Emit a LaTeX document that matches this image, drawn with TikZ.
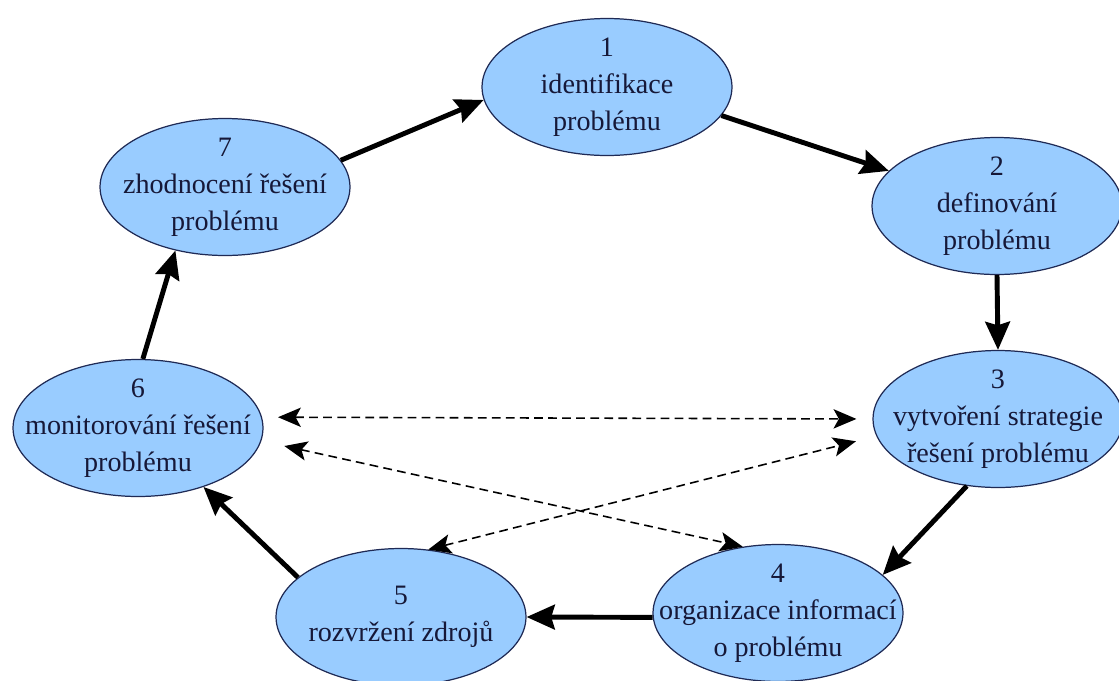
\documentclass[tikz,border=0pt]{standalone}
\usepackage{fontspec}
\setmainfont{Liberation Serif}
\usepackage{tikz}
\usepackage{xcolor}
\usetikzlibrary{shapes.geometric,arrows.meta}
\definecolor{stagefill}{HTML}{99CCFF}
\definecolor{stageline}{HTML}{1F2A55}
\definecolor{stagetext}{HTML}{161838}

\begin{document}
\begin{tikzpicture}[x=0.02cm, y=-0.02cm,  stage/.style={ellipse, draw=stageline, fill=stagefill, line width=0.7pt, minimum width=5cm, minimum height=2.74cm, inner xsep=-1cm, inner ysep=-0.5cm, align=center, text=stagetext, font=\fontsize{16}{21}\selectfont},  flow/.style={line width=2.8pt, -{Stealth[length=16pt, width=14pt, inset=2pt]}},  link/.style={line width=0.9pt, dash pattern=on 5pt off 3pt, {Stealth[length=13pt, width=11pt, inset=3pt]}-{Stealth[length=13pt, width=11pt, inset=3pt]}}]
  \useasboundingbox (0,0) rectangle (1119,680);

  \node[stage] (S1) at (607,87) {1\\identifikace\\problému};
  \node[stage] (S2) at (997,206) {2\\definování\\problému};
  \node[stage] (S3) at (998,419) {3\\vytvoření strategie\\řešení problému};
  \node[stage] (S4) at (778,613) {4\\organizace informací\\o problému};
  \node[stage] (S5) at (401,617) {5\\rozvržení zdrojů};
  \node[stage] (S6) at (138,428) {6\\monitorování řešení\\problému};
  \node[stage] (S7) at (225,187) {7\\zhodnocení řešení\\problému};

  \draw[flow] (S7.13) -- (S1.186);
  \draw[flow] (S1.-14) -- (S2.162);
  \draw[flow] (S2.south) -- (S3.north);
  \draw[flow] (S3.245) -- (S4.20);
  \draw[flow] (S4.182) -- (S5.east);
  \draw[flow] (S5.159) -- (S6.-42);
  \draw[flow] (S6.86) -- (S7.232);

  \draw[link, shorten <=0.32cm, shorten >=0.32cm] (S6.5) -- (S3.west);
  \draw[link, shorten <=0.47cm] (S6.-6) -- (S4.118);
  \draw[link, shorten >=0.42cm] (S5.68) -- (S3.188);
\end{tikzpicture}
\end{document}
